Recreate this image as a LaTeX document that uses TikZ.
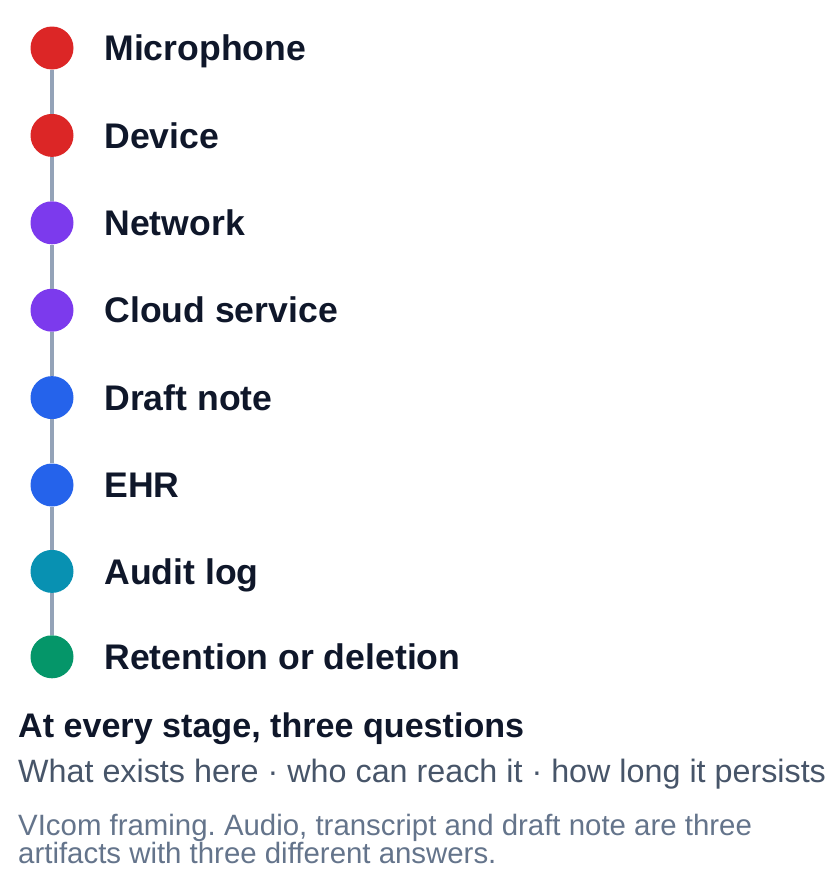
\documentclass[tikz,border=0pt]{standalone}
\usepackage{fontspec}
\setmainfont{Liberation Sans}
\frenchspacing
\usetikzlibrary{positioning}
\definecolor{ink}{HTML}{0F172A}
\definecolor{sub}{HTML}{475569}
\definecolor{note}{HTML}{64748B}
\definecolor{rail}{HTML}{94A3B8}
\definecolor{cred}{HTML}{DC2626}
\definecolor{cpurple}{HTML}{7C3AED}
\definecolor{cblue}{HTML}{2563EB}
\definecolor{ccyan}{HTML}{0891B2}
\definecolor{cgreen}{HTML}{059669}

\begin{document}
\begin{tikzpicture}[x=1pt, y=1pt, node distance = 44pt,
  dot/.style = {circle, minimum size = 43pt, inner sep = 0pt, fill = #1},
  lbl/.style = {right = 30.5pt of #1, anchor = west, inner sep = 0pt, text height = 25.5pt, text depth = 0pt,
    text = ink, font = \fontsize{35.6}{40}\selectfont\bfseries},
  rail/.style = {draw = rail, line width = 3.2pt}]
\useasboundingbox (0,0) rectangle (840,-870);
\node[dot=cred] (1) at (52,-48) {};
\node[dot=cred] (2) [below=of 1] {};
\node[dot=cpurple] (3) [below=of 2] {};
\node[dot=cpurple] (4) [below=of 3] {};
\node[dot=cblue] (5) [below=of 4] {};
\node[dot=cblue] (6) [below=of 5] {};
\node[dot=ccyan] (7) [below=43pt of 6] {};
\node[dot=cgreen] (8) [below=42pt of 7] {};
\foreach \a/\b in {1/2, 2/3, 3/4, 4/5, 5/6, 6/7, 7/8}
  \path[rail] (\a) -- (\b);
\node[lbl=1] (t1) {Microphone};
\node[lbl=2] (t2) {Device};
\node[lbl=3] (t3) {Network};
\node[lbl=4] (t4) {Cloud service};
\node[lbl=5] (t5) {Draft note};
\node[lbl=6] (t6) {EHR};
\node[lbl=7] (t7) {Audit log};
\node[lbl=8] (t8) {Retention or deletion};
% closing questions
\node[anchor=base west, inner sep=0pt, text=ink, font=\fontsize{34.1}{40}\selectfont\bfseries] (q) at (18,-737) {At every stage, three questions};
\node[anchor=base west, inner sep=0pt, text=sub, font=\fontsize{32.3}{38}\selectfont] (qa) at (18,-782) {What exists here {\textperiodcentered} who can reach it {\textperiodcentered} how long it persists};
\node[anchor=base west, inner sep=0pt, text=note, align=left, font=\fontsize{29.4}{28}\selectfont] (fn) at (18,-863) {VIcom framing. Audio, transcript and draft note are three\\artifacts with three different answers.};
\end{tikzpicture}
\end{document}
